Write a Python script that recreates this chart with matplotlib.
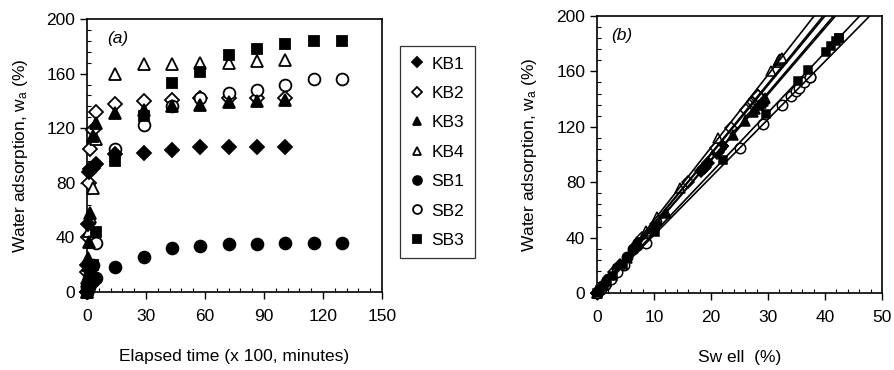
import numpy as np
import matplotlib
matplotlib.use('Agg')
import matplotlib.pyplot as plt

plt.rcParams['font.family'] = ['Liberation Sans', 'DejaVu Sans']
plt.rcParams['mathtext.fontset'] = 'custom'
plt.rcParams['mathtext.rm'] = 'Liberation Sans'
plt.rcParams['mathtext.it'] = 'Liberation Sans:italic'

# elapsed time (x 100 minutes)
t_kb = [0, 0.2, 0.5, 1.0, 1.5, 3.0, 4.5, 14.4, 28.8, 43.2, 57.6, 72.0, 86.4, 100.8]
t_sb = [0, 0.2, 0.5, 1.0, 1.5, 3.0, 4.5, 14.4, 28.8, 43.2, 57.6, 72.0, 86.4, 100.8, 115.2, 129.6]

# water adsorption (%)
wa_kb1 = [0, 20, 50, 88, 90, 91, 94, 101, 102, 104, 106, 106, 106, 106]
wa_kb2 = [0, 15, 40, 80, 105, 119, 132, 138, 140, 141, 142, 142, 142, 142]
wa_kb3 = [0, 10, 25, 37, 58, 114, 124, 131, 133, 136, 137, 139, 140, 141]
wa_kb4 = [0, 8, 20, 45, 55, 76, 112, 160, 167, 167, 168, 168, 169, 170]
wa_sb1 = [0, 1, 2, 4, 6, 8, 10, 18, 26, 32, 34, 35, 35, 36, 36, 36]
wa_sb2 = [0, 3, 6, 10, 15, 20, 36, 105, 122, 136, 142, 146, 148, 152, 156, 156]
wa_sb3 = [0, 2, 5, 8, 12, 20, 44, 96, 129, 153, 161, 174, 178, 182, 184, 184]

# swell (%)
sw_kb1 = [0, 4.1, 10.4, 18.3, 18.7, 18.9, 19.5, 21.0, 21.2, 21.6, 22.0, 22.0, 22.0, 22.0]
sw_kb2 = [0, 3.0, 7.9, 15.9, 20.8, 23.6, 26.2, 27.4, 27.8, 28.0, 28.2, 28.2, 28.2, 28.2]
sw_kb3 = [0, 2.1, 5.2, 7.7, 12.1, 23.8, 25.9, 27.4, 27.8, 28.5, 28.7, 29.1, 29.3, 29.5]
sw_kb4 = [0, 1.5, 3.8, 8.6, 10.5, 14.5, 21.3, 30.5, 31.8, 31.8, 32.0, 32.0, 32.2, 32.4]
sw_sb1 = [0, 0.2, 0.4, 0.8, 1.2, 1.6, 2.0, 3.6, 5.2, 6.4, 6.8, 7.0, 7.0, 7.2, 7.2, 7.2]
sw_sb2 = [0, 0.7, 1.4, 2.4, 3.6, 4.8, 8.6, 25.1, 29.2, 32.5, 34.0, 34.9, 35.4, 36.4, 37.3, 37.3]
sw_sb3 = [0, 0.5, 1.2, 1.8, 2.8, 4.6, 10.1, 22.1, 29.7, 35.3, 37.1, 40.1, 41.0, 41.9, 42.4, 42.4]

# slopes of the fitted lines through the origin (wa / swell)
fit_slopes = [4.82, 5.04, 4.78, 5.25, 5.00, 4.18, 4.34]

labels = ['KB1', 'KB2', 'KB3', 'KB4', 'SB1', 'SB2', 'SB3']
times = [t_kb, t_kb, t_kb, t_kb, t_sb, t_sb, t_sb]
wa = [wa_kb1, wa_kb2, wa_kb3, wa_kb4, wa_sb1, wa_sb2, wa_sb3]
sw = [sw_kb1, sw_kb2, sw_kb3, sw_kb4, sw_sb1, sw_sb2, sw_sb3]
markers = ['D', 'D', '^', '^', 'o', 'o', 's']
filled = [True, False, True, False, True, False, True]
msize = [7, 7, 8.5, 8.5, 8.5, 8.5, 7]


def style_axes(ax, xmax, xmajor, xminor):
  ax.set_xlim(0, xmax)
  ax.set_ylim(0, 200)
  ax.set_xticks(np.arange(0, xmax + 1, xmajor))
  ax.set_xticks(np.arange(0, xmax + 0.01, xminor), minor=True)
  ax.set_yticks(np.arange(0, 201, 40))
  ax.set_yticks(np.arange(0, 201, 8), minor=True)
  ax.tick_params(which='major', direction='out', length=5, width=1, labelsize=12.5)
  ax.tick_params(axis='x', which='major', pad=7)
  ax.tick_params(which='minor', direction='in', length=3, width=0.8)
  for s in ax.spines.values():
    s.set_linewidth(1.2)
  ax.set_ylabel(r'Water adsorption, w$_{\rm a}$ (%)', fontsize=12.5, labelpad=12)


fig = plt.figure(figsize=(8.95, 3.70), dpi=100)
ax1 = fig.add_axes([0.0972, 0.2108, 0.3296, 0.7378])
ax2 = fig.add_axes([0.667, 0.2081, 0.3184, 0.7486])

handles = []
for i in range(len(labels)):
  fc = 'black' if filled[i] else 'white'
  h, = ax1.plot(times[i], wa[i], ls='none', marker=markers[i], ms=msize[i],
                mfc=fc, mec='black', mew=1.3, label=labels[i], clip_on=False,
                zorder=3 + (1 if filled[i] else 0))
  handles.append(h)
  ax2.plot(sw[i], wa[i], ls='none', marker=markers[i], ms=msize[i] - 1,
           mfc=fc, mec='black', mew=1.1, clip_on=False, zorder=3)
  xs = np.array([0, 50])
  ax2.plot(xs, fit_slopes[i] * xs, color='black', lw=1.2, zorder=4)

style_axes(ax1, 150, 30, 6)
style_axes(ax2, 50, 10, 2)
ax1.set_xlabel('Elapsed time (x 100, minutes)', fontsize=12.5, labelpad=18)
ax2.set_xlabel('Sw ell  (%)', fontsize=12.5, labelpad=18)

ax1.text(0.07, 0.93, '(a)', transform=ax1.transAxes, fontsize=12.5, style='italic',
         va='center', ha='left')
ax2.text(0.05, 0.93, '(b)', transform=ax2.transAxes, fontsize=12.5, style='italic',
         va='center', ha='left')

leg = fig.legend(handles=handles, loc='upper left', bbox_to_anchor=(0.447, 0.8757),
                 borderaxespad=0, frameon=True, fancybox=False, edgecolor='black',
                 fontsize=12.5, labelspacing=0.82, handlelength=0.8,
                 handletextpad=0.4, borderpad=0.6, markerscale=0.75)
leg.get_frame().set_linewidth(0.9)

fig.savefig('out.png', dpi=100)
